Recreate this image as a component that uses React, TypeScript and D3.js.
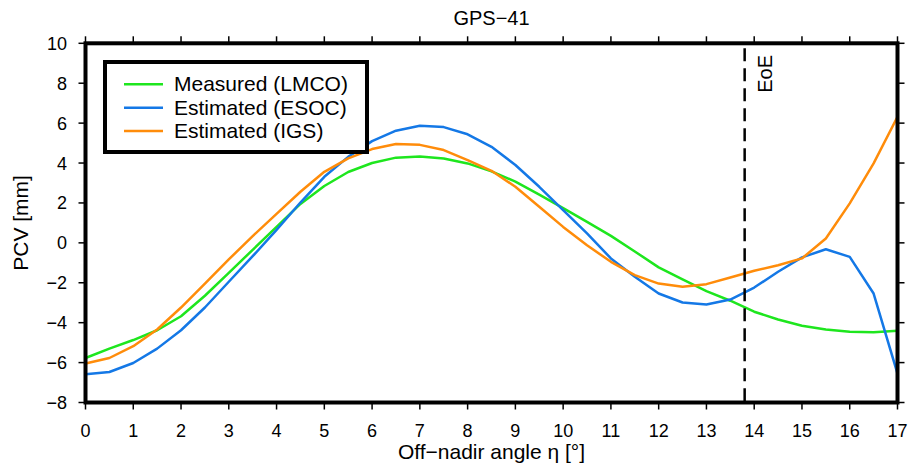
import React from "react";
import * as d3 from "d3";

const eta = [0, 0.5, 1, 1.5, 2, 2.5, 3, 3.5, 4, 4.5, 5, 5.5, 6, 6.5, 7, 7.5, 8, 8.5, 9, 9.5, 10, 10.5, 11, 11.5, 12, 12.5, 13, 13.5, 14, 14.5, 15, 15.5, 16, 16.5, 17];
const measuredLMCO = [-5.77, -5.3, -4.87, -4.38, -3.68, -2.65, -1.5, -0.35, 0.8, 1.95, 2.85, 3.55, 4.0, 4.27, 4.33, 4.23, 3.98, 3.58, 3.07, 2.42, 1.74, 1.05, 0.35, -0.43, -1.23, -1.83, -2.42, -2.9, -3.45, -3.84, -4.15, -4.34, -4.46, -4.48, -4.41];
const estimatedESOC = [-6.59, -6.47, -6.02, -5.3, -4.38, -3.24, -1.95, -0.67, 0.65, 2.02, 3.31, 4.31, 5.1, 5.62, 5.87, 5.8, 5.44, 4.81, 3.9, 2.81, 1.64, 0.47, -0.78, -1.7, -2.54, -2.99, -3.09, -2.84, -2.24, -1.45, -0.73, -0.32, -0.7, -2.54, -6.55];
const estimatedIGS = [-6.05, -5.77, -5.18, -4.34, -3.24, -2.04, -0.83, 0.34, 1.45, 2.56, 3.56, 4.23, 4.7, 4.95, 4.91, 4.65, 4.15, 3.61, 2.81, 1.81, 0.8, -0.12, -0.95, -1.62, -2.04, -2.2, -2.07, -1.74, -1.4, -1.12, -0.78, 0.22, 1.98, 3.98, 6.32];

const seriesNames = ["Measured (LMCO)", "Estimated (ESOC)", "Estimated (IGS)"];
const seriesColors = ["#1ee61e", "#1478e6", "#ff8c0a"];
const xTicks = [0, 1, 2, 3, 4, 5, 6, 7, 8, 9, 10, 11, 12, 13, 14, 15, 16, 17];
const yTicks = [-8, -6, -4, -2, 0, 2, 4, 6, 8, 10];
const eoeAngle = 13.8;

const W = 911, H = 476;
const L = 85.5, R = 897.5, T = 43.3, B = 402.5;
const font = "'Liberation Sans', Arial, Helvetica, sans-serif";

export default function App() {
  const x = d3.scaleLinear().domain([0, 17]).range([L, R]);
  const y = d3.scaleLinear().domain([-8, 10]).range([B, T]);
  const allSeries = [measuredLMCO, estimatedESOC, estimatedIGS];
  const line = d3
    .line<number>()
    .x((_, i) => x(eta[i]))
    .y((d) => y(d))
    .curve(d3.curveLinear);

  return (
    <svg width={W} height={H} style={{ position: "absolute", left: 0, top: 0, background: "#fff" }} fontFamily={font}>
      <defs>
        <clipPath id="plotclip">
          <rect x={L} y={T} width={R - L} height={B - T} />
        </clipPath>
      </defs>
      <rect x={0} y={0} width={W} height={H} fill="#fff" />
      <text x={(L + R) / 2} y={25} textAnchor="middle" fontSize={20} fill="#000">GPS−41</text>

      <g clipPath="url(#plotclip)">
        {allSeries.map((s, k) => (
          <path key={k} d={line(s) || ""} fill="none" stroke={seriesColors[k]} strokeWidth={2.5} strokeLinejoin="round" />
        ))}
      </g>

      <line x1={x(eoeAngle)} x2={x(eoeAngle)} y1={T + 5} y2={B} stroke="#000" strokeWidth={2.5} strokeDasharray="13,7" />
      <text transform={`translate(${x(eoeAngle) + 27},${55}) rotate(-90)`} textAnchor="end" fontSize={20} fill="#000">EoE</text>

      {xTicks.map((t) => (
        <g key={"x" + t}>
          <line x1={x(t)} x2={x(t)} y1={B} y2={B + 7} stroke="#000" strokeWidth={1.5} />
          <line x1={x(t)} x2={x(t)} y1={T} y2={T - 7} stroke="#000" strokeWidth={1.5} />
          <text x={x(t)} y={437} textAnchor="middle" fontSize={18} fill="#000">{t}</text>
        </g>
      ))}
      {yTicks.map((t) => (
        <g key={"y" + t}>
          <line x1={L} x2={L - 7} y1={y(t)} y2={y(t)} stroke="#000" strokeWidth={1.5} />
          <line x1={R} x2={R + 7} y1={y(t)} y2={y(t)} stroke="#000" strokeWidth={1.5} />
          <text x={67} y={y(t)} dy="0.36em" textAnchor="end" fontSize={18} fill="#000">{t < 0 ? "−" + Math.abs(t) : t}</text>
        </g>
      ))}

      <rect x={L} y={T} width={R - L} height={B - T} fill="none" stroke="#000" strokeWidth={4} />

      <rect x={105} y={62} width={262} height={90} fill="#fff" stroke="#000" strokeWidth={4} />
      {seriesNames.map((n, k) => (
        <g key={n}>
          <line x1={124} x2={163} y1={84.3 + k * 23.4} y2={84.3 + k * 23.4} stroke={seriesColors[k]} strokeWidth={2.5} />
          <text x={174} y={84.3 + k * 23.4 + 7} fontSize={21} fill="#000">{n}</text>
        </g>
      ))}

      <text x={(L + R) / 2} y={459} textAnchor="middle" fontSize={21} fill="#000">Off−nadir angle η [°]</text>
      <text transform={`translate(28,${(T + B) / 2}) rotate(-90)`} textAnchor="middle" fontSize={21} fill="#000">PCV [mm]</text>
    </svg>
  );
}
